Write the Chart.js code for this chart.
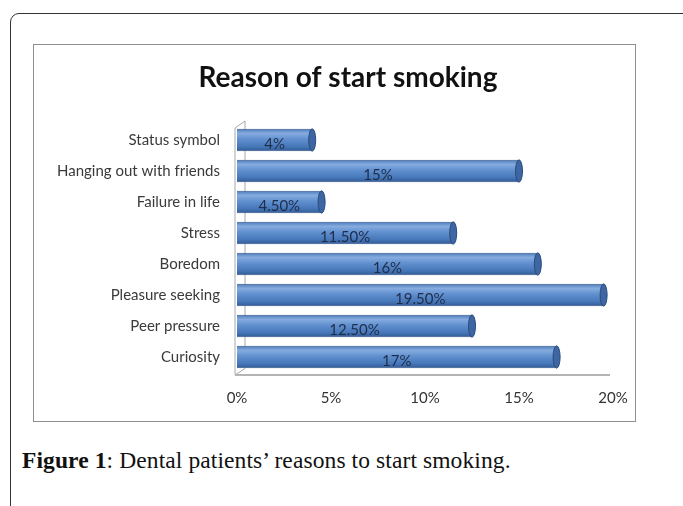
<!DOCTYPE html>
<html lang="en">
<head>
    <title>Reason of start smoking</title>
    <style>
        body { margin: 0; background: #fff; width: 683px; height: 506px; overflow: hidden; position: relative; }
        .frame { position: absolute; left: 10px; top: 13px; width: 680px; height: 540px;
                 border: 1.5px solid #333; border-radius: 9px; }
        .box { position: absolute; left: 33px; top: 44px; width: 601px; height: 376px;
               border: 1px solid #8f8f8f; }
        .caption { position: absolute; left: 22px; top: 447px; font-family: "Liberation Serif", serif;
                   font-size: 23.5px; color: #111; letter-spacing: 0.1px; }
    </style>
</head>
<body>
<div class="frame"></div>
<div class="box">
    <canvas id="myChart" width="601" height="376"></canvas>
</div>
<div class="caption"><b>Figure 1</b>: Dental patients’ reasons to start smoking.</div>

<script src="https://cdn.jsdelivr.net/npm/chart.js"></script>
<script>
    var chartTitle = 'Reason of start smoking';
    var reasons = ['Status symbol', 'Hanging out with friends', 'Failure in life', 'Stress',
                   'Boredom', 'Pleasure seeking', 'Peer pressure', 'Curiosity'];
    var percents = [4, 15, 4.5, 11.5, 16, 19.5, 12.5, 17];
    var percentLabels = ['4%', '15%', '4.50%', '11.50%', '16%', '19.50%', '12.50%', '17%'];
    var xTicks = [0, 5, 10, 15, 20];

    // cylinder look: vertical gradient per bar
    function barFill(context) {
        var chart = context.chart;
        if (!chart.chartArea || !chart.scales.y) return '#4f81bd';
        var y = chart.scales.y.getPixelForValue(context.dataIndex);
        var half = 11;
        var g = chart.ctx.createLinearGradient(0, y - half, 0, y + half);
        g.addColorStop(0, '#4d7dbb');
        g.addColorStop(0.2, '#86acdf');
        g.addColorStop(0.45, '#6291d0');
        g.addColorStop(0.8, '#4677b8');
        g.addColorStop(1, '#325b95');
        return g;
    }

    // title (off-centre like the original), 3D walls / floor, bar end caps + labels
    var decor = {
        id: 'decor',
        beforeDatasetsDraw: function (chart) {
            var a = chart.chartArea, c = chart.ctx;
            c.save();
            c.fillStyle = '#111';
            c.font = 'bold 28px Lato';
            c.textAlign = 'center';
            c.textBaseline = 'middle';
            c.fillText(chartTitle, 314, 33);

            c.strokeStyle = '#a8a8a8';
            c.lineWidth = 1;
            c.beginPath();
            c.moveTo(a.left + 8, a.top - 3.5);
            c.lineTo(a.left + 8, a.bottom - 4);
            c.moveTo(a.left - 2, a.top + 3.5);
            c.lineTo(a.left + 8, a.top - 3.5);
            c.moveTo(a.left - 2, a.top + 3.5);
            c.lineTo(a.left - 2, a.bottom + 2.5);
            c.moveTo(a.left - 2, a.bottom + 2.5);
            c.lineTo(a.left + 8, a.bottom - 4);
            c.stroke();
            c.lineWidth = 2;
            c.strokeStyle = '#b4b4b4';
            c.beginPath();
            c.moveTo(a.left - 2, a.bottom + 2.5);
            c.lineTo(a.right - 3, a.bottom + 2.5);
            c.stroke();
            c.restore();
        },
        afterDatasetsDraw: function (chart) {
            var c = chart.ctx;
            var meta = chart.getDatasetMeta(0);
            c.save();
            meta.data.forEach(function (bar, i) {
                var h = bar.height / 2;
                c.beginPath();
                c.ellipse(bar.x, bar.y, 3.5, h, 0, 0, Math.PI * 2);
                c.fillStyle = '#3d66a3';
                c.fill();
                c.strokeStyle = '#2b4c7e';
                c.lineWidth = 1;
                c.stroke();

                c.fillStyle = '#1f2d4a';
                c.font = '15px Lato';
                c.textAlign = 'center';
                c.textBaseline = 'middle';
                c.fillText(percentLabels[i], (bar.x + bar.base) / 2, bar.y + 4);
            });
            c.restore();
        }
    };

    var ctx = document.getElementById('myChart').getContext('2d');
    var myChart = new Chart(ctx, {
        type: 'bar',
        data: {
            labels: reasons,
            datasets: [{
                data: percents,
                backgroundColor: barFill,
                borderColor: '#2f5389',
                borderWidth: 1,
                borderSkipped: 'left',
                categoryPercentage: 1,
                barPercentage: 0.72
            }]
        },
        plugins: [decor],
        options: {
            indexAxis: 'y',
            responsive: false,
            animation: false,
            devicePixelRatio: 1,
            layout: { padding: { left: 0, right: 22, top: 79.5, bottom: 0 } },
            plugins: {
                legend: { display: false },
                tooltip: { enabled: false },
                title: { display: false }
            },
            scales: {
                x: {
                    min: 0,
                    max: 20,
                    afterBuildTicks: function (scale) {
                        scale.ticks = xTicks.map(function (v) { return { value: v }; });
                    },
                    afterFit: function (scale) {
                        scale.height = 48.5;
                        scale.paddingLeft = 0;
                        scale.paddingRight = 0;
                    },
                    grid: { display: false },
                    border: { display: false },
                    ticks: {
                        padding: 9,
                        color: '#333',
                        font: { family: 'Lato', size: 15 },
                        callback: function (v) { return v + '%'; }
                    }
                },
                y: {
                    afterFit: function (scale) { scale.width = 203; },
                    grid: { display: false },
                    border: { display: false },
                    ticks: {
                        padding: 9,
                        color: '#3a3a3a',
                        font: { family: 'Lato', size: 15 }
                    }
                }
            }
        }
    });
</script>
</body>
</html>
